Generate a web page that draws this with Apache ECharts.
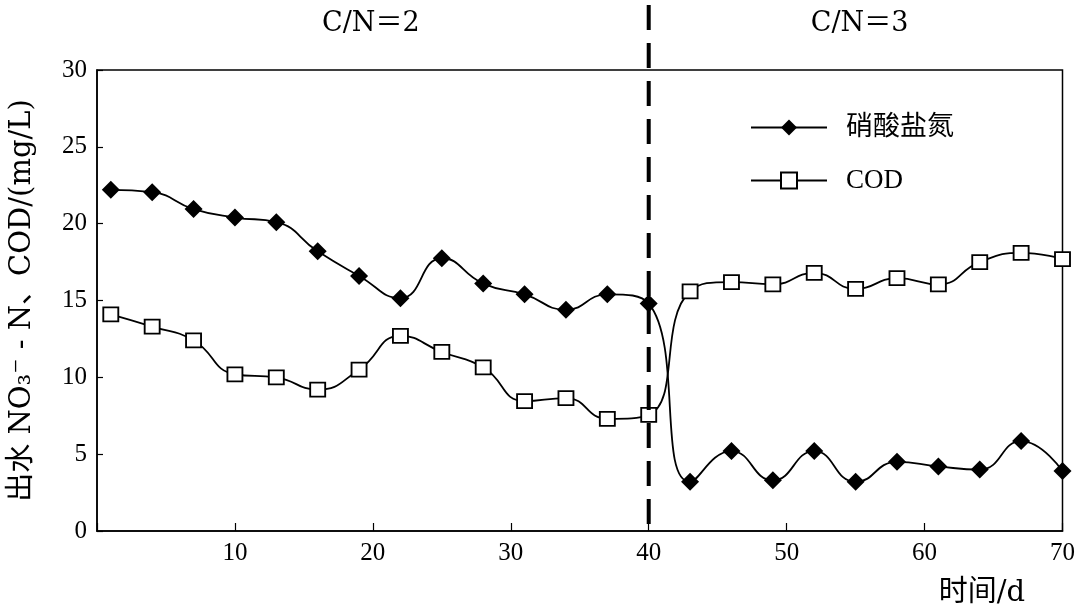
<!DOCTYPE html>
<html><head><meta charset="utf-8">
<script src="https://cdn.jsdelivr.net/npm/echarts@6/dist/echarts.min.js"></script>
<style>html,body{margin:0;padding:0;background:#fff}#c{width:1078px;height:610px}</style>
</head><body><div id="c"></div>
<script>
var days = [1,4,7,10,13,16,19,22,25,28,31,34,37,40,43,46,49,52,55,58,61,64,67,70];
var nitrate = [22.2,22.05,20.95,20.4,20.1,18.2,16.6,15.15,17.75,16.1,15.4,14.4,15.4,14.8,3.2,5.2,3.3,5.2,3.2,4.5,4.2,4.0,5.85,3.9];
var cod = [14.1,13.3,12.4,10.2,10.0,9.2,10.5,12.7,11.65,10.65,8.45,8.65,7.3,7.55,15.6,16.2,16.05,16.8,15.75,16.45,16.05,17.5,18.1,17.7];
var phaseLabels = ['C/N\uFF1D2','C/N\uFF1D3'];
var switchDay = 40;
var serifFont = '"Liberation Serif","Noto Sans CJK SC",serif';
var wideFont = '"DejaVu Serif","Noto Sans CJK SC",serif';

var chart = echarts.init(document.getElementById('c'));
function pairs(v){ return days.map(function(d,i){return [d,v[i]];}); }
chart.setOption({
  animation:false,
  backgroundColor:'#fff',
  grid:{left:94,right:14,top:70,bottom:79,show:true,borderColor:'#000',borderWidth:1.5,backgroundColor:'transparent'},
  legend:{
    orient:'vertical', left:745, top:109, itemWidth:76, itemHeight:20, itemGap:26,
    textStyle:{fontFamily:serifFont,fontSize:27,color:'#000',padding:[0,0,0,14]},
    data:[{name:'硝酸盐氮'},{name:'COD'}]
  },
  xAxis:{
    type:'value', min:0, max:70, interval:10,
    axisLine:{lineStyle:{color:'#000',width:1.5}},
    axisTick:{inside:true,length:8,lineStyle:{color:'#000',width:1.2}},
    axisLabel:{fontFamily:serifFont,fontSize:25,color:'#000',margin:10,
      formatter:function(v){return v===0?'':v;}},
    splitLine:{show:false}
  },
  yAxis:{
    type:'value', min:0, max:30, interval:5,
    name:'出水 NO₃⁻ - N、COD/(mg/L)', nameLocation:'middle', nameGap:60, nameRotate:90,
    nameTextStyle:{fontFamily:wideFont,fontSize:29,color:'#000'},
    axisLine:{lineStyle:{color:'#000',width:1.5}},
    axisTick:{inside:true,length:6,lineStyle:{color:'#000',width:1.2}},
    axisLabel:{fontFamily:serifFont,fontSize:25,color:'#000',margin:10},
    splitLine:{show:false}
  },
  series:[
    {name:'COD',type:'line',data:pairs(cod),smooth:0.5,symbol:'rect',symbolSize:[15,14],
     lineStyle:{color:'#000',width:1.8},itemStyle:{color:'#fff',borderColor:'#000',borderWidth:1.8}},
    {name:'硝酸盐氮',type:'line',data:pairs(nitrate),smooth:0.5,symbol:'diamond',symbolSize:[18,18],
     lineStyle:{color:'#000',width:1.8},itemStyle:{color:'#000',borderColor:'#000',borderWidth:0}}
  ]
});
var xs = chart.convertToPixel({xAxisIndex:0}, switchDay);
var y0 = chart.convertToPixel({yAxisIndex:0}, 0);
var xa = chart.convertToPixel({xAxisIndex:0}, 0);
var xb = chart.convertToPixel({xAxisIndex:0}, 70);
chart.setOption({
  graphic:[
    {type:'line',z:100,shape:{x1:xs,y1:5,x2:xs,y2:y0},
     style:{stroke:'#000',lineWidth:4,lineDash:[25,13]}},
    {type:'text',x:(xa+xs)/2 - 2,y:24,style:{text:phaseLabels[0],font:'27px '+wideFont,fill:'#000',textAlign:'center',textVerticalAlign:'middle'}},
    {type:'text',x:(xs+xb)/2 + 4,y:24,style:{text:phaseLabels[1],font:'27px '+wideFont,fill:'#000',textAlign:'center',textVerticalAlign:'middle'}},
    {type:'text',x:982,y:593,style:{text:'时间/d',font:'29px '+wideFont,fill:'#000',textAlign:'center',textVerticalAlign:'middle'}}
  ]
});
</script></body></html>
